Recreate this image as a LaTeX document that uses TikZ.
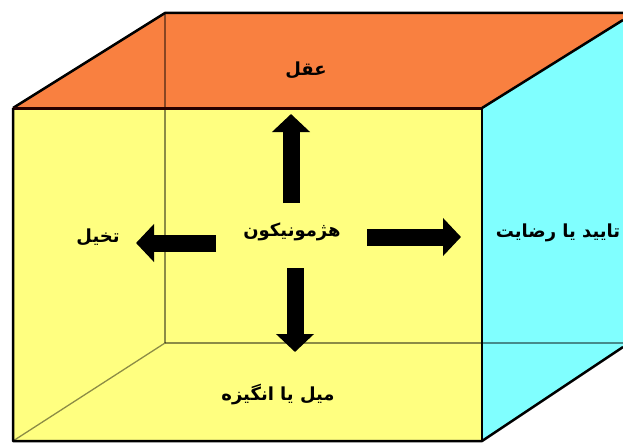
\documentclass[tikz,border=0pt]{standalone}
\usepackage{fontspec}
\usetikzlibrary{arrows.meta}
\TeXXeTstate=1
\newfontfamily\arabicfont[Script=Arabic]{DejaVu Sans}
\definecolor{topface}{HTML}{F98040}
\definecolor{frontface}{HTML}{FFFF80}
\definecolor{sideface}{HTML}{80FFFF}
\tikzset{
  label/.style={font=\arabicfont\bfseries\fontsize{18}{21}\selectfont, inner sep=0pt},
  hidden/.style={draw=black, opacity=0.45, line width=1.3pt},
  edge/.style={draw=black, line width=2.5pt, line join=round},
  blockarrow/.style={line width=17pt, -{Triangle[width=37pt,length=18pt]}}
}
\begin{document}
\begin{tikzpicture}[x=1pt,y=-1pt]
\useasboundingbox (0,0) rectangle (623,444);
% faces
\fill[topface] (13,108) -- (165,13) -- (623,13) -- (623,20) -- (482,108) -- cycle;
\fill[sideface] (482,108) -- (623,20) -- (623,347) -- (482,441) -- cycle;
\fill[frontface] (13,108) rectangle (482,441);
% hidden edges
\draw[hidden] (165,13) -- (165,343);
\draw[hidden] (165,343) -- (13,441);
\draw[hidden] (165,343) -- (623,343);
% visible edges
\draw[edge] (13,108) -- (165,13) -- (623,13);
\draw[edge] (623,20) -- (482,108);
\draw[edge, line width=3pt, draw=black!85!red] (13,108) -- (482,108);
\draw[edge] (13,108) -- (13,441) -- (482,441) -- (623,347);
\draw[edge, line width=2pt] (482,108) -- (482,441);
% labels
\node[label] (aql) at (306,70) {\beginR عقل\endR};
\node[label] (hub) at (292,232) {\beginR هژمونیکون\endR};
\node[label] (takhayol) at (98,237) {\beginR تخیل\endR};
\node[label] (taeed) at (558,233) {\beginR تایید یا رضایت\endR};
\node[label] (meil) at (278,395) {\beginR میل یا انگیزه\endR};
% arrow ends
\coordinate (upS) at (291,203);
\coordinate (upE) at (291,114);
\coordinate (dnS) at (295,268);
\coordinate (dnE) at (295,352);
\coordinate (rtS) at (367,237);
\coordinate (rtE) at (461,237);
\coordinate (ltS) at (216,243);
\coordinate (ltE) at (136,243);
\draw[blockarrow] (upS) -- (upE);
\draw[blockarrow] (dnS) -- (dnE);
\draw[blockarrow] (rtS) -- (rtE);
\draw[blockarrow] (ltS) -- (ltE);
\end{tikzpicture}
\end{document}
